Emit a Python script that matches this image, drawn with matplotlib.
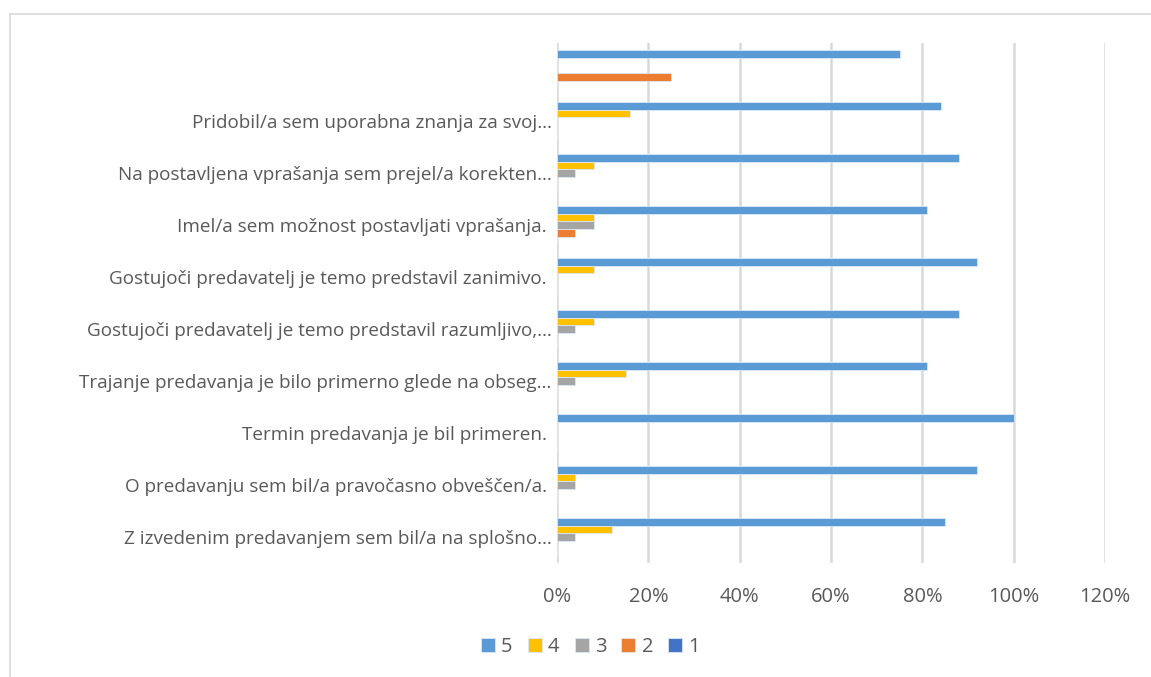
import numpy as np
import matplotlib.pyplot as plt
from matplotlib.lines import Line2D

# podatki (od spodaj navzgor)
categories = [
    "Z izvedenim predavanjem sem bil/a na splošno…",
    "O predavanju sem bil/a pravočasno obveščen/a. ",
    "Termin predavanja je bil primeren. ",
    "Trajanje predavanja je bilo primerno glede na obseg…",
    "Gostujoči predavatelj je temo predstavil razumljivo,…",
    "Gostujoči predavatelj je temo predstavil zanimivo. ",
    "Imel/a sem možnost postavljati vprašanja. ",
    "Na postavljena vprašanja sem prejel/a korekten…",
    "Pridobil/a sem uporabna znanja za svoj…",
    "",
]
s5 = [0.85, 0.92, 1.00, 0.81, 0.88, 0.92, 0.81, 0.88, 0.84, 0.75]
s4 = [0.12, 0.04, 0.00, 0.15, 0.08, 0.08, 0.08, 0.08, 0.16, 0.00]
s3 = [0.04, 0.04, 0.00, 0.04, 0.04, 0.00, 0.08, 0.04, 0.00, 0.00]
s2 = [0.00, 0.00, 0.00, 0.00, 0.00, 0.00, 0.04, 0.00, 0.00, 0.25]
s1 = [0.00, 0.00, 0.00, 0.00, 0.00, 0.00, 0.00, 0.00, 0.00, 0.00]

series = [("5", s5, "#5B9BD5"), ("4", s4, "#FFC000"), ("3", s3, "#A5A5A5"),
          ("2", s2, "#ED7D31"), ("1", s1, "#4472C4")]

plt.rcParams['font.family'] = ['Open Sans', 'DejaVu Sans']

fig = plt.figure(figsize=(11.51, 6.77), dpi=100)
ax = fig.add_axes([0.484, 0.168, 0.476, 0.768])

y = np.arange(len(categories))
h = 0.148
for i, (name, vals, col) in enumerate(series):
    ax.barh(y - (i - 2) * h, vals, height=h, color=col, label=name,
            edgecolor='#dbe8f5', linewidth=0.6, zorder=3)

ticks = np.arange(0, 1.21, 0.2)
ax.set_xlim(0, 1.2)
ax.set_ylim(-0.5, len(categories) - 0.5)
ax.set_xticks(ticks)
ax.set_xticklabels([f"{int(round(v * 100))}%" for v in ticks])
ax.set_yticks(y)
ax.set_yticklabels(categories)
ax.tick_params(axis='both', length=0, colors='#595959')
ax.tick_params(axis='x', pad=17, labelsize=14.5)
ax.tick_params(axis='y', pad=4, labelsize=13.6)
ax.grid(axis='x', color='#d9d9d9', linewidth=1.8, zorder=0)
for sp in ax.spines.values():
    sp.set_visible(False)

fig.legend(loc='center', bbox_to_anchor=(0.513, 0.044), ncol=5, frameon=False,
           fontsize=14.5, handlelength=0.7, handleheight=0.7, handletextpad=0.3,
           columnspacing=0.75, labelcolor='#595959')

# okvir grafikona (vidna sta le zgornji in levi rob)
x0, y0 = 9.5 / 1151, 1 - 14 / 677
fig.add_artist(Line2D([x0, 1], [y0, y0], transform=fig.transFigure,
                      color='#d9d9d9', linewidth=1.2))
fig.add_artist(Line2D([x0, x0], [0, y0], transform=fig.transFigure,
                      color='#d9d9d9', linewidth=1.2))

fig.savefig("out.png", dpi=100)
